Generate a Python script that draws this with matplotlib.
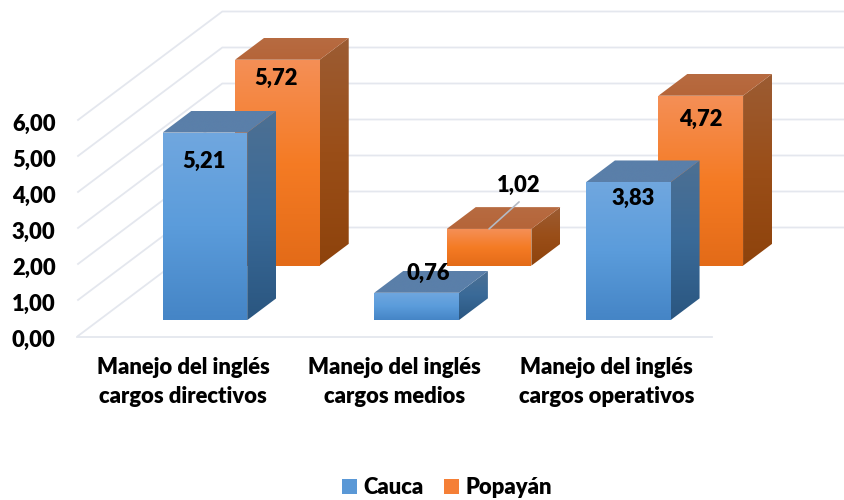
import numpy as np
import matplotlib
matplotlib.use("Agg")
import matplotlib.pyplot as plt
from matplotlib.colors import LinearSegmentedColormap
from matplotlib.patches import Polygon, Patch

# === Data ===
categories = ["Manejo del inglés\ncargos directivos", "Manejo del inglés\ncargos medios", "Manejo del inglés\ncargos operativos"]
cauca = [5.21, 0.76, 3.83]
popayan = [5.72, 1.02, 4.72]
y_ticks = [0, 1, 2, 3, 4, 5, 6]

# === Layout (pixels of the 844x500 picture) ===
W, H = 844, 500
X0, Y0 = 77.3, 336.5  # front left corner of the floor
CAT_PX = 211.67       # width of one category
VAL_PX = 36.0         # height of one value unit
DX = 145 / CAT_PX     # full depth of the box, in data units
DY = 109 / VAL_PX
BAR_W = 0.40

plt.rcParams["font.family"] = ["Lato", "DejaVu Sans"]
plt.rcParams["font.weight"] = 800
FS = 15.8

fig = plt.figure(figsize=(W / 100, H / 100), dpi=100)
ax = fig.add_axes([0, 0, 1, 1])
ax.set_xlim(-X0 / CAT_PX, (W - X0) / CAT_PX)
ax.set_ylim(-(H - Y0) / VAL_PX, Y0 / VAL_PX)
ax.axis("off")


def proj(x, y, z):
    return x + z * DX, y + z * DY


def gradient_face(pts, colors, order):
    # vertical gradient clipped to the polygon
    pts = np.array(pts)
    cmap = LinearSegmentedColormap.from_list("g", colors)
    grad = np.linspace(0, 1, 128).reshape(-1, 1)
    ext = [pts[:, 0].min(), pts[:, 0].max(), pts[:, 1].min(), pts[:, 1].max()]
    im = ax.imshow(grad, cmap=cmap, extent=ext, origin="upper", aspect="auto", zorder=order)
    poly = Polygon(pts, closed=True, transform=ax.transData, fc="none", ec="none")
    ax.add_patch(poly)
    im.set_clip_path(poly)


def bar3d(x, val, z0, z1, front, side, top, order):
    l, r = x - BAR_W / 2, x + BAR_W / 2
    gradient_face([proj(r, 0, z0), proj(r, val, z0), proj(r, val, z1), proj(r, 0, z1)], side, order)
    gradient_face([proj(l, val, z0), proj(r, val, z0), proj(r, val, z1), proj(l, val, z1)], top, order)
    gradient_face([proj(l, 0, z0), proj(r, 0, z0), proj(r, val, z0), proj(l, val, z0)], front, order + 0.1)


# === Walls ===
grid_c = "#E4E7EE"
for t in y_ticks:
    a = proj(0, t, 0)
    b = proj(0, t, 1)
    c = proj(3, t, 1)
    ax.plot([a[0], b[0], c[0]], [a[1], b[1], c[1]], color=grid_c, lw=1.3, zorder=1, solid_capstyle="butt")
    ax.text(-0.102, t - 0.1, f"{t:.2f}".replace(".", ","), ha="right", va="center", fontsize=FS, color="black")
ax.plot([0, 3], [0, 0], color=grid_c, lw=1.3, zorder=1)

# === Bars ===
blue_front = ["#70A7DF", "#5B9CDB", "#4585C6"]
blue_side = ["#4D7093", "#3A6A98", "#2A5680"]
blue_top = ["#5A7FA9", "#5A7FA9"]
orange_front = ["#F48F56", "#F57B24", "#E36B18"]
orange_side = ["#9C5C33", "#9A4E18", "#8E430C"]
orange_top = ["#B76B41", "#B56539"]

xs = np.arange(len(categories)) + 0.5
for x, v in zip(xs, popayan):
    bar3d(x, v, 0.65, 0.85, orange_front, orange_side, orange_top, 2)
for x, v in zip(xs, cauca):
    bar3d(x, v, 0.15, 0.35, blue_front, blue_side, blue_top, 4)

# === Data labels, offsets in pixels from the middle of the front top edge ===
cauca_off = [(-1, -29), (12, 19), (5, -16)]
popayan_off = [(-1, -19), (30, 44), (0, -24)]
px = 72 / 100
for vals, z, offs in [(cauca, 0.15, cauca_off), (popayan, 0.65, popayan_off)]:
    for x, v, o in zip(xs, vals, offs):
        ax.annotate(f"{v:.2f}".replace(".", ","), proj(x, v, z), xytext=(o[0] * px, o[1] * px),
                    textcoords="offset points", ha="center", va="center",
                    fontsize=FS, color="black", zorder=8)

# leader line of the 1,02 label
p = proj(xs[1], popayan[1], 0.65)
ax.annotate("", p, xytext=(30 * px, 27 * px), textcoords="offset points",
            arrowprops=dict(arrowstyle="-", color="#B4BAC4", lw=1.2, shrinkA=0, shrinkB=0), zorder=7)

# === Category labels ===
for x, c in zip(xs, categories):
    ax.text(x, -1.27, c, ha="center", va="center", fontsize=FS, color="black", linespacing=1.45)

# === Legend ===
handles = [Patch(fc="#5A98D6", label="Cauca"), Patch(fc="#F57F36", label="Popayán")]
fig.legend(handles=handles, loc="center", bbox_to_anchor=(447 / W, 1 - 487.5 / H), ncol=2, frameon=False,
           fontsize=FS, handlelength=0.65, handleheight=0.65, handletextpad=0.3, columnspacing=0.95)

fig.savefig("out.png", dpi=100)
